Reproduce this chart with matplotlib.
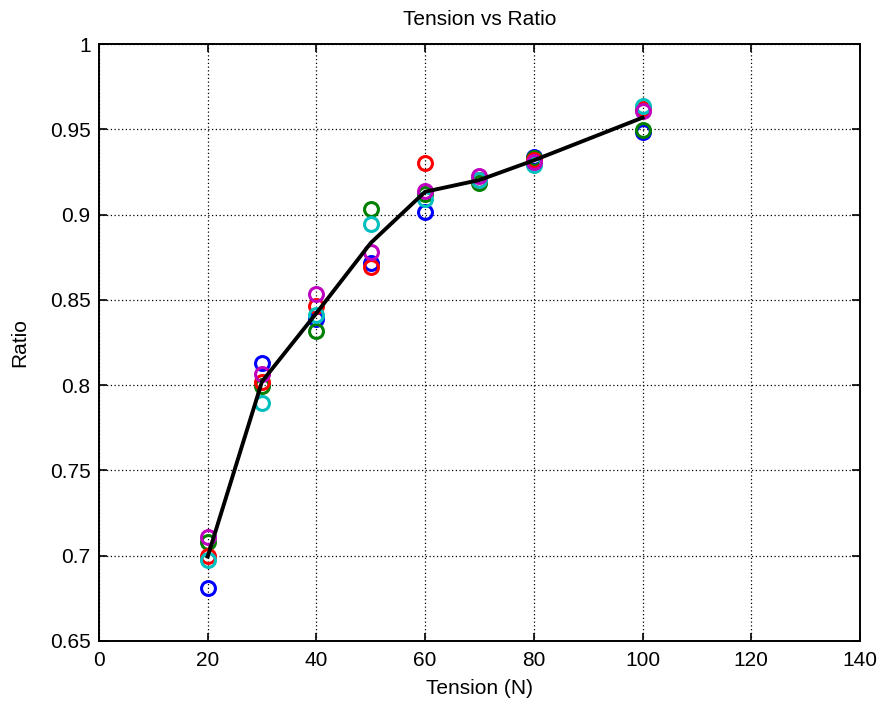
import matplotlib
matplotlib.use("Agg")
import matplotlib.pyplot as plt
import numpy as np

plt.rcParams['font.family'] = ['Liberation Sans', 'DejaVu Sans']

tension = [20, 30, 40, 50, 60, 70, 80, 100]
trial_blue = [0.681, 0.813, 0.8385, 0.8714, 0.9017, 0.920, 0.934, 0.9484]
trial_green = [0.708, 0.7995, 0.8317, 0.9033, 0.912, 0.9187, 0.933, 0.9496]
trial_red = [0.700, 0.802, 0.8464, 0.8695, 0.9304, 0.920, 0.932, 0.962]
trial_cyan = [0.6975, 0.7897, 0.8411, 0.8943, 0.909, 0.920, 0.929, 0.9635]
trial_magenta = [0.711, 0.8065, 0.8534, 0.8783, 0.9138, 0.9226, 0.931, 0.9606]

trials = [trial_blue, trial_green, trial_red, trial_cyan, trial_magenta]
colors = ['#0000ff', '#008000', '#ff0000', '#00bfbf', '#bf00bf']

fig = plt.figure(figsize=(8.82, 7.02), dpi=100)
ax = fig.add_axes([0.1122, 0.0869, 0.975 - 0.1122, 0.9373 - 0.0869])

for t, c in zip(trials, colors):
    ax.plot(tension, t, 'o', mfc='none', mec=c, ms=10, mew=2.2, zorder=3)

mean_ratio = np.mean(np.array(trials), axis=0)
ax.plot(tension, mean_ratio, '-', color='black', lw=2.8, zorder=4)

fs = 15
ax.set_xlim(0, 140)
ax.set_ylim(0.65, 1.0)
ax.set_xticks(np.arange(0, 141, 20))
ax.set_yticks(np.arange(0.65, 1.001, 0.05))
ax.set_yticklabels(['0.65', '0.7', '0.75', '0.8', '0.85', '0.9', '0.95', '1'])
ax.grid(True, color='black', linestyle=(0, (1, 2)), linewidth=0.9)
ax.tick_params(direction='in', top=True, right=True, labelsize=fs, length=5.5, width=1.2)
ax.tick_params(axis='y', pad=6)
ax.tick_params(axis='x', pad=7)
for s in ax.spines.values():
    s.set_linewidth(1.4)
ax.set_title('Tension vs Ratio', fontsize=fs, pad=14)
ax.set_xlabel('Tension (N)', fontsize=fs, labelpad=7)
ax.set_ylabel('Ratio', fontsize=fs, labelpad=15)

fig.savefig('out.png', dpi=100)
